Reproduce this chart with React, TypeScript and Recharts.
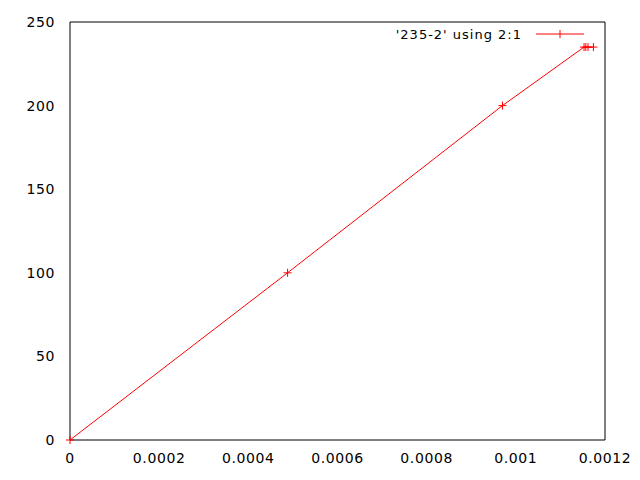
import { LineChart, Line, XAxis, YAxis, ReferenceArea } from "recharts";

// column 2 (x) and column 1 (y) of '235-2'
const xValues = [0, 0.000488, 0.00097, 0.001153, 0.001157, 0.001162, 0.001174];
const yValues = [0, 100, 200, 235, 235, 235, 235];

const xTicks = [0, 0.0002, 0.0004, 0.0006, 0.0008, 0.001, 0.0012];
const xTickLabels = ["0", "0.0002", "0.0004", "0.0006", "0.0008", "0.001", "0.0012"];
const yTicks = [0, 50, 100, 150, 200, 250];

const seriesName = "'235-2' using 2:1";

const data = xValues.map((x, i) => ({ x, y: yValues[i] }));

const RED = "#ff0000";
const tickStyle = { fill: "#000", fontSize: 14, letterSpacing: 0.6 };

function PlusDot(props: any) {
  const { cx, cy } = props;
  if (cx == null || cy == null) return null;
  return (
    <g stroke={RED} strokeWidth={1}>
      <line x1={cx - 4} y1={cy} x2={cx + 4} y2={cy} />
      <line x1={cx} y1={cy - 4} x2={cx} y2={cy + 4} />
    </g>
  );
}

function KeyBox() {
  return (
    <svg width={230} height={20} style={{ position: "absolute", left: 380, top: 24 }}>
      <text x={142} y={15} textAnchor="end" fill="#000" fontSize={13} letterSpacing={1}>
        {seriesName}
      </text>
      <line x1={156} y1={10} x2={204} y2={10} stroke={RED} />
      <line x1={180} y1={6} x2={180} y2={14} stroke={RED} />
    </svg>
  );
}

export default function App() {
  return (
    <div
      style={{
        position: "relative",
        marginLeft: -8,
        marginTop: -8,
        width: 640,
        height: 480,
        background: "#fff",
        fontFamily: "'DejaVu Sans', sans-serif",
      }}
    >
      <LineChart width={640} height={480} data={data} margin={{ top: 22, right: 35, bottom: 0, left: 0 }}>
        <XAxis
          dataKey="x"
          type="number"
          domain={[0, 0.0012]}
          ticks={xTicks}
          tickFormatter={(v: number) => xTickLabels[xTicks.indexOf(v)] ?? String(v)}
          axisLine={false}
          tickLine={false}
          tickSize={0}
          tickMargin={13}
          height={40}
          interval={0}
          tick={tickStyle}
        />
        <YAxis
          type="number"
          domain={[0, 250]}
          ticks={yTicks}
          axisLine={false}
          tickLine={false}
          tickSize={0}
          tickMargin={15}
          width={70}
          interval={0}
          tick={tickStyle}
        />
        <ReferenceArea
          x1={0}
          x2={0.0012}
          y1={0}
          y2={250}
          fill="none"
          stroke="#000"
          strokeWidth={1}
          fillOpacity={0}
          ifOverflow="visible"
        />
        <Line
          dataKey="y"
          stroke={RED}
          strokeWidth={1}
          dot={<PlusDot />}
          activeDot={false}
          isAnimationActive={false}
        />
      </LineChart>
      <KeyBox />
    </div>
  );
}
